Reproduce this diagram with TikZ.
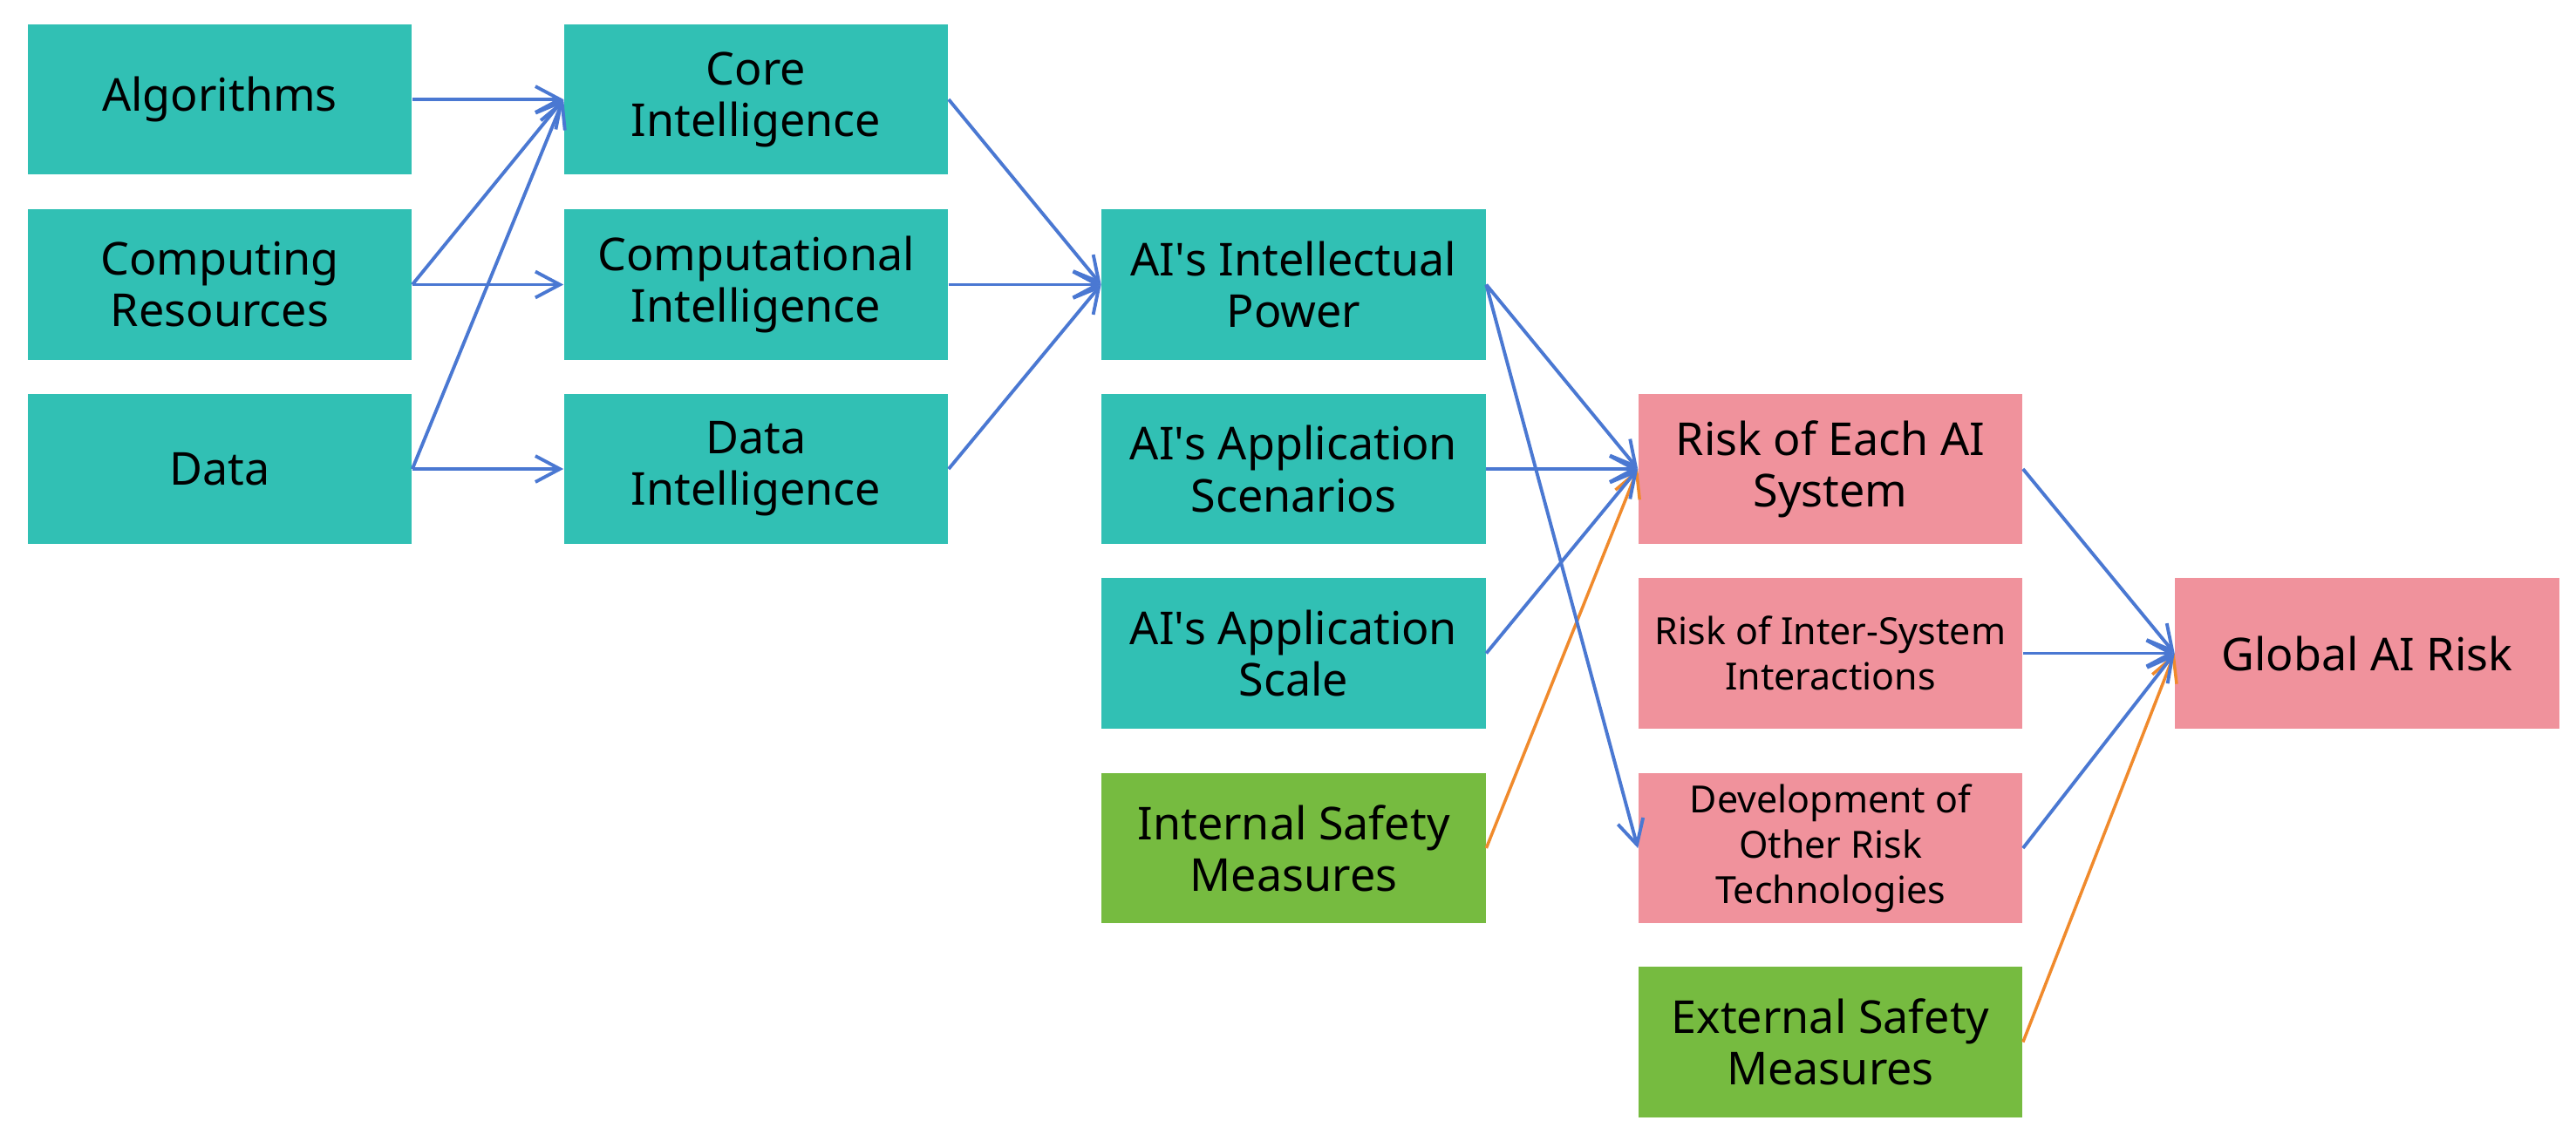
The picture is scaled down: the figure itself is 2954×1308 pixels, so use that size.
\documentclass[tikz,border=0pt]{standalone}
\usepackage{fontspec}
\setmainfont{Noto Sans}
\usetikzlibrary{arrows.meta}
\definecolor{tealc}{HTML}{31C0B4}
\definecolor{pinkc}{HTML}{F0929C}
\definecolor{greenc}{HTML}{76BB40}
\definecolor{bluec}{HTML}{4A78D2}
\definecolor{orangec}{HTML}{F08A2C}
\newcommand{\apos}{\textquotesingle}
\begin{document}
\begin{tikzpicture}[x=0.01cm,y=-0.01cm,
  box/.style={rectangle, minimum width=4.4cm, minimum height=1.72cm, inner sep=0pt, align=center, text=black, font=\fontsize{14.8}{16.8}\selectfont},
  smallbox/.style={box, font=\fontsize{12.2}{14.8}\selectfont},
  tealbox/.style={box, fill=tealc},
  pinkbox/.style={box, fill=pinkc},
  greenbox/.style={box, fill=greenc},
  arr/.style={draw=bluec, line width=1.1pt, -{Straight Barb[length=8pt,width=8.5pt,line width=1.1pt]}},
  oarr/.style={draw=orangec, line width=1pt, -{Straight Barb[length=8pt,width=8.5pt,line width=1pt]}},
]
\useasboundingbox (0,0) rectangle (2954,1308);
\fill[white] (0,0) rectangle (2954,1308);

% column 1
\node[tealbox] (alg) at (252,114) {Algorithms};
\node[tealbox] (comp) at (252,326.5) {Computing\\Resources};
\node[tealbox] (data) at (252,538) {Data};
% column 2
\node[tealbox] (core) at (867,114) {Core\\Intelligence};
\node[tealbox] (cint) at (867,326.5) {Computational\\Intelligence};
\node[tealbox] (dint) at (867,538) {Data\\Intelligence};
% column 3
\node[tealbox] (power) at (1483.5,326.5) {AI\apos s Intellectual\\Power};
\node[tealbox] (scen) at (1483.5,538) {AI\apos s Application\\Scenarios};
\node[tealbox] (scale) at (1483.5,749.5) {AI\apos s Application\\Scale};
\node[greenbox] (isafe) at (1483.5,973) {Internal Safety\\Measures};
% column 4
\node[pinkbox] (each) at (2099,538) {Risk of Each AI\\System};
\node[pinkbox,smallbox] (inter) at (2099,749.5) {Risk of Inter-System\\Interactions};
\node[pinkbox,smallbox] (dev) at (2099,973) {Development of\\Other Risk\\Technologies};
\node[greenbox] (esafe) at (2099,1195.5) {External Safety\\Measures};
% column 5
\node[pinkbox] (glob) at (2714.5,749.5) {Global AI Risk};

% orange connectors
\draw[oarr] (isafe.east) -- (each.west);
\draw[oarr] (esafe.east) -- (glob.west);
% blue connectors
\draw[arr] (alg.east) -- (core.west);
\draw[arr] (comp.east) -- (core.west);
\draw[arr] (comp.east) -- (cint.west);
\draw[arr] (data.east) -- (core.west);
\draw[arr] (data.east) -- (dint.west);
\draw[arr] (core.east) -- (power.west);
\draw[arr] (cint.east) -- (power.west);
\draw[arr] (dint.east) -- (power.west);
\draw[arr] (power.east) -- (each.west);
\draw[arr] (power.east) -- (dev.west);
\draw[arr] (scen.east) -- (each.west);
\draw[arr] (scale.east) -- (each.west);
\draw[arr] (each.east) -- (glob.west);
\draw[arr] (inter.east) -- (glob.west);
\draw[arr] (dev.east) -- (glob.west);
\end{tikzpicture}
\end{document}
